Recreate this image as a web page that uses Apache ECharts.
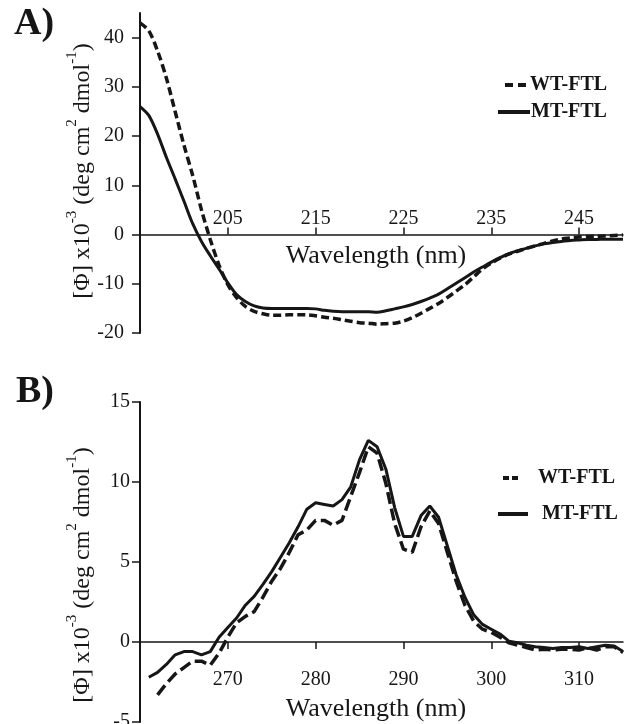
<!DOCTYPE html>
<html>
<head>
<meta charset="utf-8">
<script src="https://cdn.jsdelivr.net/npm/echarts@6/dist/echarts.min.js"></script>
<style>html,body{margin:0;padding:0;background:#fff}#c{width:631px;height:724px}</style>
</head>
<body>
<div id="c"></div>
<script>
// ---- Panel A: far-UV CD ----
const waveA = [195,196,197,198,199,200,201,202,203,204,205,206,207,208,209,210,211,212,213,214,215,216,217,218,219,220,221,222,223,224,225,226,227,228,229,230,231,232,233,234,235,236,237,238,239,240,241,242,243,244,245,246,247,248,249,250];
const wtA = [43.0,41.4,37.3,31.8,25.0,18.2,12.0,5.0,-1.0,-6.2,-10.2,-12.8,-14.6,-15.6,-16.1,-16.4,-16.4,-16.3,-16.3,-16.3,-16.5,-16.8,-17.0,-17.3,-17.6,-17.9,-18.0,-18.2,-18.1,-18.0,-17.6,-16.9,-16.0,-15.0,-14.0,-12.8,-11.5,-10.2,-8.6,-7.0,-5.8,-4.8,-4.0,-3.4,-2.8,-2.3,-1.8,-1.3,-0.9,-0.7,-0.5,-0.4,-0.35,-0.3,-0.2,-0.1];
const mtA = [26.0,24.2,20.4,15.7,11.3,6.8,2.2,-1.4,-4.3,-7.0,-9.8,-12.2,-13.6,-14.5,-14.9,-15.0,-15.0,-15.0,-15.0,-15.0,-15.1,-15.4,-15.6,-15.7,-15.7,-15.7,-15.7,-15.8,-15.5,-15.1,-14.7,-14.2,-13.6,-12.9,-12.1,-11.0,-9.9,-8.8,-7.6,-6.6,-5.6,-4.7,-3.9,-3.3,-2.8,-2.3,-1.9,-1.6,-1.4,-1.2,-1.1,-1.0,-1.0,-0.95,-0.95,-0.95];
const xTicksA = [205,215,225,235,245];
const yTicksA = [-20,-10,0,10,20,30,40];

// ---- Panel B: near-UV CD ----
const waveMtB = [261,262,263,264,265,266,267,268,269,270,271,272,273,274,275,276,277,278,279,280,281,282,283,284,285,286,287,288,289,290,291,292,293,294,295,296,297,298,299,300,301,302,303,304,305,306,307,308,309,310,311,312,313,314,315];
const mtB = [-2.2,-1.9,-1.4,-0.8,-0.6,-0.6,-0.8,-0.6,0.3,0.9,1.5,2.3,2.85,3.6,4.4,5.3,6.2,7.2,8.3,8.7,8.6,8.5,8.9,9.7,11.4,12.6,12.2,10.8,8.4,6.6,6.6,7.9,8.5,7.8,6.0,4.2,2.8,1.7,1.1,0.8,0.5,0.05,-0.05,-0.2,-0.3,-0.35,-0.4,-0.35,-0.35,-0.3,-0.4,-0.3,-0.2,-0.25,-0.6];
const waveWtB = [262,263,264,265,266,267,268,269,270,271,272,273,274,275,276,277,278,279,280,281,282,283,284,285,286,287,288,289,290,291,292,293,294,295,296,297,298,299,300,301,302,303,304,305,306,307,308,309,310,311,312,313,314,315];
const wtB = [-3.3,-2.6,-2.0,-1.6,-1.2,-1.2,-1.45,-0.7,0.3,1.2,1.6,1.9,2.8,3.8,4.6,5.6,6.7,7.0,7.6,7.6,7.3,7.6,9.1,10.6,12.2,11.8,9.9,7.4,5.8,5.6,7.2,8.2,7.4,5.6,3.8,2.3,1.3,0.8,0.6,0.3,-0.05,-0.2,-0.35,-0.5,-0.45,-0.5,-0.45,-0.45,-0.5,-0.35,-0.5,-0.3,-0.3,-0.65];
const xTicksB = [270,280,290,300,310];
const yTicksB = [-5,0,5,10,15];

const seriesNames = ['WT-FTL','MT-FTL'];

const pair = (xs, ys) => xs.map((x, i) => [x, ys[i]]);
const FONT = '"Liberation Serif", "Times New Roman", serif';
const INK = '#161616';

// layout (pixels)
const L = 140, R = 8, W = 631, H = 724;
const gA = {top: 13, h: 320, min: -20, max: 45};
const gB = {top: 402, h: 320, min: -5, max: 15};
const zeroY = g => g.top + g.h * g.max / (g.max - g.min);

const chart = echarts.init(document.getElementById('c'), null, {renderer: 'canvas'});

function yName(cx, cy) {
  return {
    type: 'text', x: cx, y: cy, rotation: Math.PI / 2,
    style: {
      text: '{m|[Φ] x10}{s|-3}{m| (deg cm}{s|2}{m| dmol}{s|-1}{m|)}',
      align: 'center', verticalAlign: 'middle', fill: INK,
      rich: {
        m: {fontFamily: FONT, fontSize: 24, lineHeight: 30, verticalAlign: 'bottom', fill: INK},
        s: {fontFamily: FONT, fontSize: 15, lineHeight: 30, verticalAlign: 'top', fill: INK, padding: [0,0,14,0]}
      }
    }
  };
}
function legendItems(dash, solid, t1, t2) {
  const els = [];
  dash.segs.forEach(s => els.push({type: 'line', shape: {x1: s[0], y1: dash.y, x2: s[1], y2: dash.y}, style: {stroke: INK, lineWidth: 4}}));
  els.push({type: 'line', shape: {x1: solid.x1, y1: solid.y, x2: solid.x2, y2: solid.y}, style: {stroke: INK, lineWidth: 4}});
  els.push({type: 'text', x: t1.x, y: dash.y, style: {text: seriesNames[0], font: 'bold 20px ' + FONT, fill: INK, align: 'left', verticalAlign: 'middle'}});
  els.push({type: 'text', x: t2.x, y: solid.y, style: {text: seriesNames[1], font: 'bold 20px ' + FONT, fill: INK, align: 'left', verticalAlign: 'middle'}});
  return els;
}

const axisLabelStyle = {fontFamily: FONT, fontSize: 20, color: INK};
const hiddenX = (gi, min, max) => ({gridIndex: gi, type: 'value', min, max, show: false, axisLine: {onZero: false}});

const zA = zeroY(gA), zB = zeroY(gB);

chart.setOption({
  animation: false,
  backgroundColor: '#fff',
  grid: [
    {left: L, right: R, top: gA.top, height: gA.h, outerBoundsMode: 'none'},
    {left: L, right: R, top: gB.top, height: gB.h, outerBoundsMode: 'none'},
    // helper grids that carry the x axes along the zero lines
    {left: L, right: R, top: zA, height: 20, outerBoundsMode: 'none'},
    {left: L, right: R, top: zB - 20, height: 20, outerBoundsMode: 'none'}
  ],
  xAxis: [
    hiddenX(0, 195, 250),
    hiddenX(1, 260, 315),
    {gridIndex: 2, type: 'value', min: 195, max: 250, position: 'top',
     axisLine: {show: true, onZero: false, lineStyle: {color: INK, width: 1.5}},
     axisTick: {show: true, length: 7, customValues: xTicksA, lineStyle: {color: INK, width: 1.5}},
     axisLabel: {show: true, margin: 6, customValues: xTicksA, ...axisLabelStyle},
     splitLine: {show: false}},
    {gridIndex: 3, type: 'value', min: 260, max: 315, position: 'bottom',
     axisLine: {show: true, onZero: false, lineStyle: {color: INK, width: 1.5}},
     axisTick: {show: true, length: 7, customValues: xTicksB, lineStyle: {color: INK, width: 1.5}},
     axisLabel: {show: true, margin: 28, customValues: xTicksB, ...axisLabelStyle},
     splitLine: {show: false}}
  ],
  yAxis: [
    {gridIndex: 0, type: 'value', min: gA.min, max: gA.max,
     axisLine: {show: true, onZero: false, lineStyle: {color: INK, width: 2}},
     axisTick: {show: true, length: 8, customValues: yTicksA, lineStyle: {color: INK, width: 1.5}},
     axisLabel: {show: true, margin: 16, customValues: yTicksA, ...axisLabelStyle},
     splitLine: {show: false}},
    {gridIndex: 1, type: 'value', min: gB.min, max: gB.max, interval: 5,
     axisLine: {show: true, onZero: false, lineStyle: {color: INK, width: 2}},
     axisTick: {show: true, length: 8, customValues: yTicksB, lineStyle: {color: INK, width: 1.5}},
     axisLabel: {show: true, margin: 10, customValues: yTicksB, ...axisLabelStyle},
     splitLine: {show: false}},
    {gridIndex: 2, type: 'value', min: 0, max: 1, show: false},
    {gridIndex: 3, type: 'value', min: 0, max: 1, show: false}
  ],
  series: [
    {name: seriesNames[0], type: 'line', xAxisIndex: 0, yAxisIndex: 0, data: pair(waveA, wtA), smooth: 0.3, showSymbol: false,
     lineStyle: {color: INK, width: 3.5, type: [8, 4]}},
    {name: seriesNames[1], type: 'line', xAxisIndex: 0, yAxisIndex: 0, data: pair(waveA, mtA), smooth: 0.3, showSymbol: false,
     lineStyle: {color: INK, width: 3}},
    {name: seriesNames[0], type: 'line', xAxisIndex: 1, yAxisIndex: 1, data: pair(waveWtB, wtB), showSymbol: false,
     lineStyle: {color: INK, width: 3.5, type: [12, 5]}},
    {name: seriesNames[1], type: 'line', xAxisIndex: 1, yAxisIndex: 1, data: pair(waveMtB, mtB), showSymbol: false,
     lineStyle: {color: INK, width: 3}}
  ],
  graphic: [
    {type: 'text', x: 14, y: 24, style: {text: 'A)', font: 'bold 38px ' + FONT, fill: INK, align: 'left', verticalAlign: 'middle'}},
    {type: 'text', x: 16, y: 392, style: {text: 'B)', font: 'bold 38px ' + FONT, fill: INK, align: 'left', verticalAlign: 'middle'}},
    yName(80, 171),
    yName(80, 575),
    {type: 'text', x: 376, y: 256, style: {text: 'Wavelength (nm)', font: '26px ' + FONT, fill: INK, align: 'center', verticalAlign: 'middle'}},
    {type: 'text', x: 376, y: 709, style: {text: 'Wavelength (nm)', font: '26px ' + FONT, fill: INK, align: 'center', verticalAlign: 'middle'}},
    ...legendItems({y: 85, segs: [[505, 513], [518, 526]]}, {x1: 498, x2: 530, y: 112}, {x: 530}, {x: 531}),
    ...legendItems({y: 478, segs: [[503, 509], [512, 518]]}, {x1: 498, x2: 528, y: 514}, {x: 538}, {x: 542})
  ]
});
</script>
</body>
</html>
